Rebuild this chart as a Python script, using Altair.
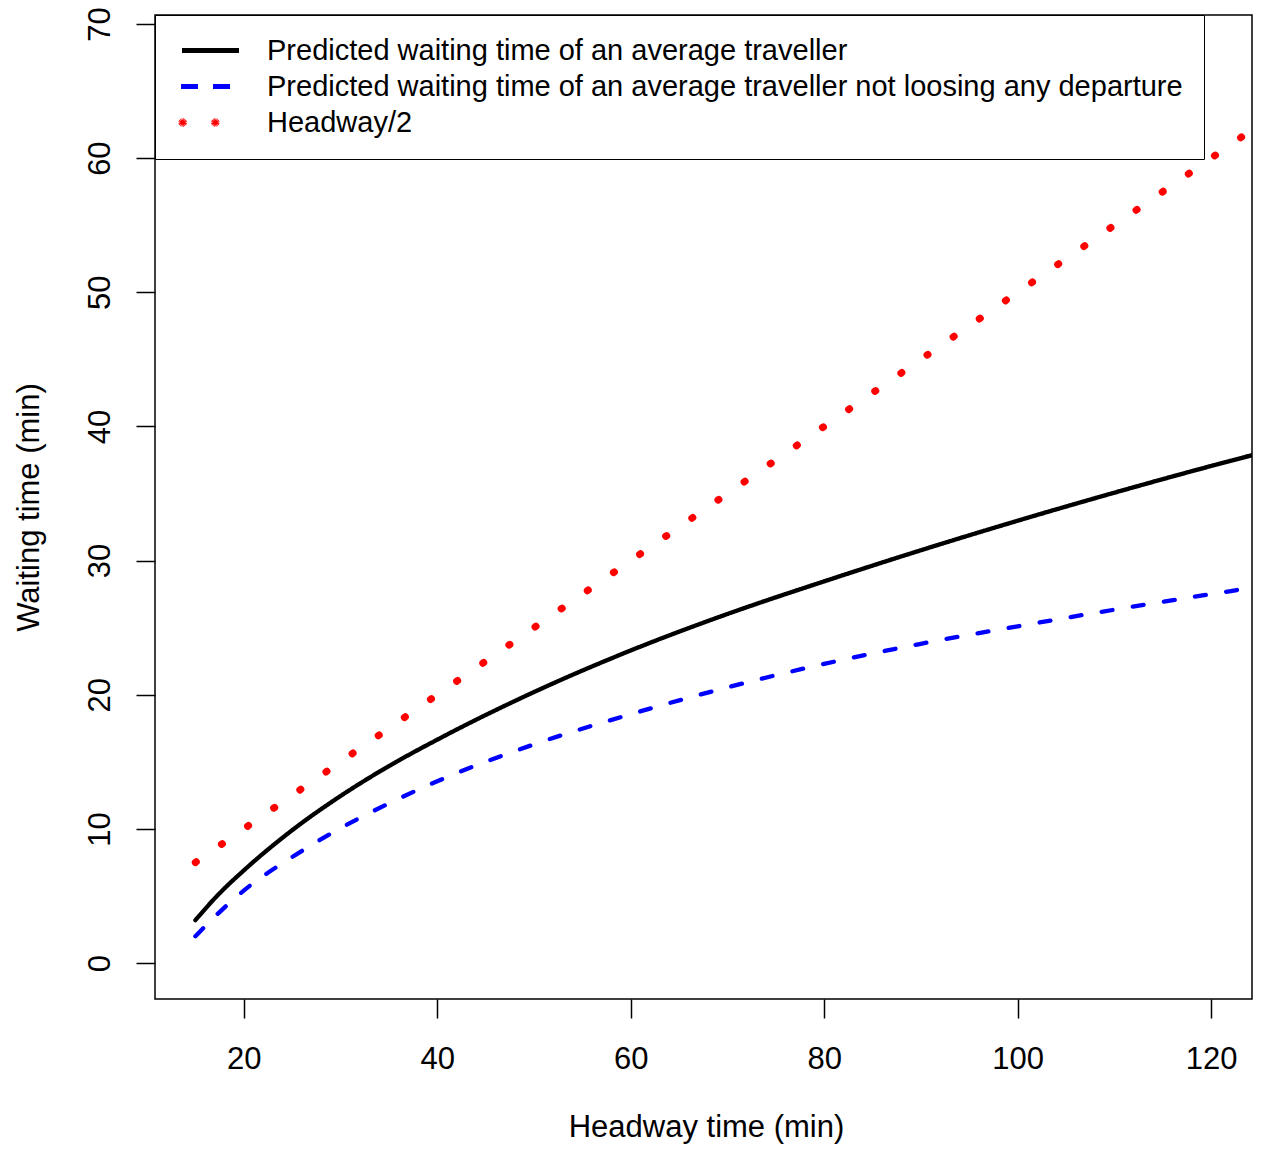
import math
import altair as alt
import pandas as pd

# ---- data ----
series_names = [
    "Predicted waiting time of an average traveller",
    "Predicted waiting time of an average traveller not loosing any departure",
    "Headway/2",
]
headway = [15, 17.5, 20, 25, 30, 35, 40, 50, 60, 70, 80, 90, 100, 110, 120, 124.2]
wait_avg = [3.2, 5.2, 6.9, 9.9, 12.45, 14.68, 16.65, 20.2, 23.3, 26.02, 28.45, 30.77, 32.97, 35.06, 37.05, 37.85]
wait_noloss = [2.0, 3.8, 5.4, 7.9, 10.05, 11.9, 13.55, 16.3, 18.55, 20.55, 22.3, 23.8, 25.1, 26.34, 27.5, 27.98]
half_x = [15, 124.2]
half_y = [7.5, 62.1]

x_ticks = [20, 40, 60, 80, 100, 120]
y_ticks = [0, 10, 20, 30, 40, 50, 60, 70]

colors = ["#000000", "#0000ff", "#ff0000"]
dashes = [[1, 0], [11, 20.5], [1.0, 30.8]]
widths = [4.3, 4.3, 7.2]

rows = []
for i, (xs, ys) in enumerate([(headway, wait_avg), (headway, wait_noloss), (half_x, half_y)]):
    for h, w in zip(xs, ys):
        rows.append({"series": series_names[i], "order": i, "sw": widths[i], "headway": h, "wait": w})
df = pd.DataFrame(rows)

FONT = "Liberation Sans"


# legend samples (paths in legend-symbol units; 1 unit = 19 px).
# Each piece is shorter than the "on" part of its dash pattern, so the
# dash (which restarts on every sub-path) leaves it whole.
def ring(c, r=0.1158, n=16):
    pts = [(c + r * math.cos(2 * math.pi * k / n), r * math.sin(2 * math.pi * k / n)) for k in range(n + 1)]
    return "".join(
        f"M{pts[k][0]:.4f},{pts[k][1]:.4f}L{pts[k + 1][0]:.4f},{pts[k + 1][1]:.4f}" for k in range(n)
    )


SOLID = "M-1.5,0H1.5"
DASHED = "M-1.55,0H-1.105M-1.105,0H-0.66M0.13,0H0.58M0.58,0H1.03"
DOTS = ring(-1.463) + ring(0.253)
is_red = f"datum.value === '{series_names[2]}'"
is_blue = f"datum.value === '{series_names[1]}'"
sym_type = alt.ExprRef(expr=f"{is_red} ? '{DOTS}' : ({is_blue} ? '{DASHED}' : '{SOLID}')")
sym_width = alt.ExprRef(expr=f"{is_red} ? 4.4 : 5")

chart = (
    alt.Chart(df)
    .mark_line(clip=True, strokeCap="round", interpolate="monotone")
    .encode(
        x=alt.X(
            "headway:Q",
            scale=alt.Scale(domain=[10.825, 124.227], nice=False, zero=False),
            axis=alt.Axis(
                values=x_ticks,
                title="Headway time (min)",
                titleX=551,
                titleY=137,
                titleAlign="center",
                titleBaseline="alphabetic",
                labelPadding=26,
                labelFlush=False,
            ),
        ),
        y=alt.Y(
            "wait:Q",
            scale=alt.Scale(domain=[-2.68, 70.67], nice=False, zero=False),
            axis=alt.Axis(
                values=y_ticks,
                title="Waiting time (min)",
                titleAngle=270,
                titleX=-117,
                titleY=492,
                titleAlign="center",
                titleBaseline="alphabetic",
                labelAngle=270,
                labelAlign="center",
                labelBaseline="alphabetic",
                labelPadding=27,
                labelFlush=False,
            ),
        ),
        color=alt.Color(
            "series:N",
            scale=alt.Scale(domain=series_names, range=colors),
            legend=alt.Legend(
                title=None,
                symbolType=sym_type,
                symbolStrokeWidth=sym_width,
            ),
        ),
        strokeDash=alt.StrokeDash(
            "series:N",
            scale=alt.Scale(domain=series_names, range=dashes),
            legend=None,
        ),
        strokeWidth=alt.StrokeWidth("sw:Q", scale=None),
        detail="order:O",
    )
    .properties(
        width=1097,
        height=984,
        autosize=alt.AutoSizeParams(type="none"),
        padding={"left": 147, "top": 7, "right": 1, "bottom": 146},
        background="white",
    )
    .configure_view(stroke="#000000", strokeWidth=1.5)
    .configure_axis(
        grid=False,
        domain=False,
        tickSize=19,
        tickWidth=1.5,
        tickColor="#000000",
        labelFont=FONT,
        labelFontSize=31,
        labelColor="#000000",
        labelOverlap=False,
        titleFont=FONT,
        titleFontSize=31,
        titleFontWeight="normal",
        titleColor="#000000",
    )
    .configure_legend(
        orient="none",
        legendX=0,
        legendY=0,
        padding=21,
        strokeColor="#000000",
        fillColor="#ffffff",
        labelFont=FONT,
        labelFontSize=29,
        labelColor="#000000",
        labelLimit=2000,
        symbolSize=1444,
        symbolOffset=20,
        labelOffset=42,
        rowPadding=6,
    )
)

chart.save("out.html", embed_options={"renderer": "svg", "actions": False})
